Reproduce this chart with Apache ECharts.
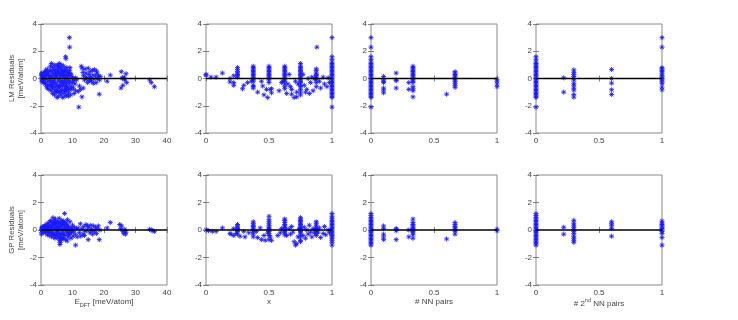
<!DOCTYPE html>
<html>
<head>
<meta charset="utf-8">
<script src="https://cdn.jsdelivr.net/npm/echarts@6/dist/echarts.min.js"></script>
<style>
  html, body { margin: 0; background: #fff; }
  #chart { width: 738px; height: 320px; }
</style>
</head>
<body>
<div id="chart"></div>
<script>
// LM residuals vs E_DFT  [x, y]
const lmVsE = [
  [0.1,0.2],[0.2,-0.1],[0.3,0.4],[0.4,0.1],[0.5,-0.2],[0.6,0.3],[0.7,0.0],[0.8,0.25],[0.9,-0.3],[1.0,0.15],
  [0.2,0.35],[0.5,0.05],[0.8,-0.1],[0.3,-0.25],[1.1,0.45],[0.4,0.3],[0.6,0.0],[0.9,0.35],[1.1,-0.2],
  [1.3,-0.4],[1.5,0.6],[1.6,0.2],[1.8,-0.6],[2.0,0.7],[2.1,-0.2],[2.3,0.4],[2.5,-0.8],[2.6,0.1],[2.8,0.55],
  [2.9,-0.5],[3.0,0.9],[1.4,0.0],[1.9,0.3],[2.2,-0.45],[2.7,-0.1],[3.1,0.2],[1.2,0.35],[1.7,0.5],[2.4,0.25],
  [2.05,-0.7],[2.95,-0.25],
  [3.2,-0.9],[3.3,1.1],[3.5,0.5],[3.6,-0.3],[3.7,-1.1],[3.8,0.8],[4.0,-0.6],[4.1,0.3],[4.2,1.0],[4.3,-1.2],
  [4.4,0.0],[4.5,-0.8],[4.6,0.6],[4.7,-0.4],[4.8,0.9],[4.9,-1.0],[5.0,0.2],[3.4,0.1],[3.9,-0.15],[4.15,0.65],
  [4.45,-0.95],[4.75,0.4],[3.55,-0.7],[3.15,0.6],[3.45,-0.45],[3.85,0.35],[4.25,-0.3],[4.55,0.15],[4.85,-0.6],
  [3.25,-0.6],
  [5.1,-1.4],[5.2,0.7],[5.3,-0.2],[5.4,1.0],[5.5,-1.3],[5.6,0.4],[5.7,-0.7],[5.8,1.1],[5.9,-0.5],[6.0,0.1],
  [6.1,-1.0],[6.2,0.8],[6.3,-1.2],[6.4,0.5],[6.5,-0.3],[6.6,1.0],[6.7,-0.9],[6.8,0.2],[6.9,-1.4],[7.0,0.6],
  [5.25,-0.9],[5.65,0.0],[6.05,-0.6],[6.45,0.3],[6.85,-0.55],[5.45,0.55],[5.15,0.35],[5.35,-0.5],[5.55,0.85],
  [5.75,-1.0],[5.95,0.3],[6.15,-0.2],[6.35,0.65],[6.55,-0.85],[6.75,0.45],[6.95,-0.15],
  [7.1,-0.4],[7.2,0.9],[7.3,-1.1],[7.4,0.3],[7.5,-0.7],[7.6,0.7],[7.7,-1.3],[7.8,0.0],[7.9,-0.9],[8.0,0.5],
  [8.1,-0.3],[8.2,0.8],[8.3,-1.2],[8.4,0.1],[8.5,-0.6],[8.6,0.4],[8.8,-1.0],[8.9,0.2],[9.0,-0.4],[9.1,0.6],
  [7.35,0.5],[7.85,-0.5],[8.35,-0.8],[8.75,0.35],[7.15,0.2],[7.45,-0.25],[7.65,-0.95],[7.95,0.25],[8.15,-0.7],
  [8.45,0.55],[8.65,-0.15],[8.95,-0.75],[9.35,0.35],
  [9.3,-0.2],[9.5,0.3],[9.6,-0.8],[9.8,0.1],[10.0,-0.3],[10.2,0.0],[10.5,-0.15],[10.8,-0.4],[11.0,0.05],
  [9.4,-1.2],[9.7,-0.6],[10.3,-0.7],[11.3,-0.1],[8.7,-1.3],[9.2,0.8],
  [9.0,3.0],[9.1,2.3],[7.8,1.6],[7.9,1.45],[12.0,-2.1],[18.5,-1.15],[13.0,-1.35],[11.0,-0.9],[11.8,-0.95],
  [12.5,-0.8],[13.4,-0.7],[12.2,-0.55],[10.5,-1.1],
  [12.8,0.9],[13.1,0.75],[13.5,0.2],[13.8,-0.1],[14.0,0.7],[14.3,0.4],[14.5,0.0],[14.8,-0.3],[15.0,0.75],
  [15.2,0.3],[15.4,-0.15],[15.6,0.5],[15.8,0.1],[16.0,-0.2],[16.3,0.6],[16.5,0.25],[16.8,-0.05],[17.0,0.65],
  [17.3,0.2],[17.5,-0.3],[17.8,0.4],[18.0,0.0],[18.3,0.2],[18.6,-0.1],[14.2,0.1],[15.5,0.05],[16.6,-0.35],
  [17.6,0.55],[13.3,0.45],[18.8,0.15],
  [21.0,-0.2],[22.0,0.25],[25.5,0.5],[25.4,-0.7],[26.0,-0.5],[26.4,0.1],[27.0,0.35],[27.2,-0.3],[26.0,0.0],
  [25.8,0.05],[26.6,-0.1],[34.5,-0.1],[35.0,-0.3],[36.0,-0.6]
];

// GP residuals vs E_DFT  [x, y]
const gpVsE = [
  [0.1,0.05],[0.2,-0.05],[0.3,0.1],[0.4,0.0],[0.5,0.15],[0.6,-0.1],[0.7,0.05],[0.8,0.2],[0.9,-0.15],[1.0,0.1],
  [0.3,-0.2],[0.6,0.25],[0.15,-0.3],[0.45,0.2],[0.85,-0.05],
  [1.2,0.3],[1.4,-0.2],[1.6,0.4],[1.8,0.0],[2.0,-0.35],[2.2,0.5],[2.4,0.15],[2.6,-0.4],[2.8,0.6],[3.0,-0.1],
  [1.5,0.1],[2.1,0.25],[2.7,0.3],[1.9,-0.15],[2.5,-0.2],[1.3,0.0],[1.7,0.2],[2.3,-0.05],[2.9,0.35],[2.2,0.05],
  [3.2,0.7],[3.4,-0.5],[3.6,0.3],[3.8,0.9],[4.0,-0.3],[4.2,0.5],[4.4,-0.6],[4.6,0.8],[4.8,0.1],[5.0,-0.45],
  [3.3,0.2],[3.7,-0.2],[4.1,0.05],[4.5,0.35],[4.9,-0.15],[3.5,0.55],[4.3,0.7],[4.7,-0.35],[3.1,0.1],
  [3.45,-0.3],[3.9,0.45],[4.15,-0.45],[4.4,0.15],[4.65,0.55],[4.95,0.3],
  [5.2,0.6],[5.4,-0.6],[5.6,0.2],[5.8,0.85],[6.0,-1.05],[6.1,-0.9],[6.2,0.4],[6.4,-0.3],[6.6,0.7],[6.8,-0.55],
  [7.0,0.1],[5.3,0.0],[5.7,-0.25],[6.3,0.0],[6.7,0.3],[5.5,0.45],[6.5,-0.7],[6.9,0.55],[5.15,-0.2],
  [5.45,0.1],[5.65,0.6],[5.85,-0.4],[6.05,0.2],[6.25,-0.55],[6.45,0.5],[6.85,-0.2],[5.95,-0.75],
  [7.2,0.65],[7.4,-0.4],[7.5,1.2],[7.6,0.3],[7.8,-0.7],[8.0,0.5],[8.2,-0.2],[8.4,0.75],[8.6,-0.5],[8.8,0.2],
  [9.0,-0.3],[7.3,0.0],[7.9,0.1],[8.5,0.35],[9.2,0.6],[8.3,-0.8],[7.1,-0.6],[7.05,0.4],[7.25,-0.3],
  [7.55,0.55],[7.75,0.05],[8.1,0.25],[8.35,-0.1],[8.7,-0.35],[9.1,0.1],[9.3,-0.15],
  [9.4,0.05],[9.6,-0.2],[9.8,0.15],[10.0,0.35],[10.3,-0.1],[10.6,0.2],[10.9,-0.3],[11.2,0.1],[11.0,-1.1],
  [11.5,-0.5],[11.8,0.15],[12.2,-0.2],[12.5,0.45],[12.6,-0.45],[9.5,-0.6],[10.2,-0.45],
  [13.0,0.1],[13.3,-0.3],[13.6,0.25],[14.0,-0.1],[14.3,0.4],[14.6,0.0],[15.0,-0.7],[15.2,0.2],[15.5,-0.2],
  [15.8,0.35],[16.1,0.05],[16.4,-0.3],[16.7,0.3],[17.0,-0.1],[17.3,0.2],[17.6,-0.25],[17.9,0.1],[18.2,0.3],
  [18.5,-0.7],[18.7,0.0],[14.8,0.3],[16.0,-0.05],[13.8,-0.4],
  [21.0,0.15],[22.0,0.55],[25.0,0.4],[25.3,0.1],[25.6,0.3],[26.0,-0.1],[26.3,-0.25],[26.6,0.05],[27.0,-0.15],
  [26.8,-0.3],[34.5,0.05],[35.0,0.0],[35.5,-0.05],[36.0,-0.1]
];

// residuals vs x: [x, [y...]]
const lmVsX = [
  [0,[0.3,0.25]],[0.04,[0.1]],[0.08,[0.1]],[0.13,[0.4]],[0.19,[0.0,-0.25]],[0.22,[0.2,-0.3,-0.5]],
  [0.25,[0.8,0.65,0.5,0.4,0.3,0.2,0.1]],
  [0.29,[-0.75]],[0.3,[-0.5]],[0.33,[-0.3]],[0.36,[-0.2]],
  [0.375,[0.9,0.8,0.7,0.6,0.5,0.4,0.3,0.2,0.1,0.0,-0.1,-0.2,-0.5,-0.6,-0.7]],
  [0.41,[-1.0]],[0.44,[-0.2]],[0.45,[-0.55]],[0.46,[-1.2]],[0.48,[-0.8]],[0.49,[-1.4]],
  [0.5,[0.9,0.8,0.7,0.6,0.5,0.4,0.3,0.2,0.1,0.0,-0.1,-0.3]],
  [0.51,[-0.8]],[0.52,[-1.05,-0.75]],[0.58,[-0.9]],[0.6,[-0.3]],[0.61,[-0.2]],
  [0.625,[0.9,0.8,0.7,0.6,0.5,0.4,0.3,0.2,0.1,0.0,-0.1,-0.2,-0.4,-0.6,-0.75]],
  [0.64,[-1.1]],[0.65,[-0.4]],[0.66,[0.3]],[0.67,[-0.6]],[0.68,[-0.8,-1.15]],[0.7,[-1.4]],[0.71,[-0.2]],
  [0.72,[-1.35,-1.0]],[0.73,[-0.4]],
  [0.75,[1.1,0.9,0.8,0.7,0.6,0.5,0.4,0.3,0.2,0.1,0.0,-0.1,-0.2,-0.3,-0.5,-0.6,-0.8,-1.0,-1.2]],
  [0.77,[0.3]],[0.78,[-0.5]],[0.79,[-1.0]],[0.8,[-0.8]],[0.81,[0.0]],[0.82,[-1.1]],[0.83,[-0.3]],
  [0.84,[0.1]],[0.85,[-0.9]],[0.86,[0.0]],
  [0.875,[0.7,0.6,0.4,0.3,0.2,0.1,0.0,-0.1,-0.3,-0.6]],
  [0.88,[2.3]],[0.9,[-0.2]],[0.91,[-0.7]],[0.93,[0.1]],[0.94,[-0.4]],[0.96,[-0.6]],[0.97,[0.05]],[0.98,[-0.3]],
  [1,[3.0,1.6,1.4,1.2,1.1,1.0,0.9,0.8,0.7,0.6,0.5,0.4,0.3,0.2,0.1,0.0,-0.1,-0.2,-0.3,-0.4,-0.5,-0.6,
      -0.7,-0.8,-0.9,-1.0,-1.1,-1.2,-1.3,-1.4,-2.1]]
];
const gpVsX = [
  [0,[0.0]],[0.02,[-0.05]],[0.05,[-0.1]],[0.08,[-0.1]],[0.13,[0.15]],[0.19,[-0.25]],[0.2,[-0.3]],
  [0.22,[-0.4,0.1]],[0.24,[-0.25]],
  [0.25,[0.4,0.3,0.2,0.1,0.0,-0.1,-0.3]],
  [0.27,[-0.45]],[0.3,[-0.1]],[0.31,[-0.5]],[0.34,[-0.2]],
  [0.375,[0.6,0.45,0.35,0.25,0.15,0.05,-0.05,-0.15,-0.3,-0.5]],
  [0.4,[-0.1]],[0.41,[-0.55]],[0.43,[0.15]],[0.44,[-0.7]],[0.46,[-0.4]],[0.47,[-0.75]],[0.49,[-0.2]],
  [0.5,[1.0,0.75,0.6,0.45,0.3,0.2,0.1,0.0,-0.1,-0.25,-0.4,-0.7]],
  [0.51,[-0.5]],[0.52,[-0.75]],[0.57,[-0.4]],[0.59,[-0.2]],[0.6,[0.1]],
  [0.625,[0.8,0.7,0.55,0.4,0.3,0.2,0.1,0.0,-0.1,-0.2,-0.35]],
  [0.64,[-0.4]],[0.66,[0.1]],[0.67,[-0.3]],[0.68,[0.25]],[0.69,[-0.15]],[0.7,[-0.85]],[0.71,[-1.1]],
  [0.72,[-1.0]],[0.73,[-0.5]],[0.74,[0.1]],
  [0.75,[0.9,0.8,0.7,0.6,0.5,0.4,0.3,0.2,0.1,0.0,-0.1,-0.2,-0.35,-0.5,-0.75,-0.85]],
  [0.77,[-0.4]],[0.78,[0.2]],[0.79,[-0.6]],[0.8,[0.0]],[0.81,[-0.3]],[0.82,[0.35]],[0.83,[-0.15]],
  [0.84,[-0.5]],[0.85,[0.1]],[0.86,[-0.2]],
  [0.875,[0.6,0.5,0.35,0.2,0.1,0.0,-0.1,-0.25,-0.4]],
  [0.89,[-0.15]],[0.9,[0.15]],[0.91,[-0.55]],[0.93,[-0.25]],[0.94,[0.25]],[0.95,[-0.35]],[0.97,[0.0]],[0.98,[-0.2]],
  [1,[1.2,1.0,0.85,0.7,0.6,0.5,0.4,0.3,0.2,0.1,0.0,-0.1,-0.2,-0.3,-0.4,-0.5,-0.6,-0.75,-0.9,-1.1]]
];

// residuals vs # NN pairs
const lmVsNN = [
  [0,[3.0,2.3,1.6,1.4,1.2,1.1,1.0,0.9,0.8,0.7,0.6,0.5,0.4,0.3,0.2,0.1,0.0,-0.1,-0.2,-0.3,-0.4,-0.5,
      -0.6,-0.7,-0.8,-0.9,-1.0,-1.1,-1.2,-1.3,-1.4,-2.1]],
  [0.1,[0.15,-0.1,-0.2,-0.3,-0.7,-0.85,-1.05]],
  [0.2,[0.4,-0.1,-0.15,-0.7]],
  [0.3,[-0.3,-0.8]],
  [0.333,[0.9,0.8,0.7,0.6,0.5,0.4,0.3,0.2,0.1,0.0,-0.1,-0.2,-0.3,-0.6,-0.75,-0.9,-1.35]],
  [0.6,[-1.15]],
  [0.667,[0.5,0.4,0.3,0.2,0.1,0.0,-0.1,-0.2,-0.35,-0.5,-0.65]],
  [1,[-0.05,-0.2,-0.4,-0.6]]
];
const gpVsNN = [
  [0,[1.2,1.05,0.9,0.8,0.7,0.6,0.5,0.4,0.3,0.2,0.1,0.0,-0.1,-0.2,-0.3,-0.4,-0.5,-0.6,-0.7,-0.8,-0.9,-1.0,-1.1]],
  [0.1,[0.3,0.1,-0.3,-0.5,-0.7]],
  [0.2,[0.1,0.05,-0.05,-0.7]],
  [0.3,[0.0,-0.5]],
  [0.333,[0.8,0.55,0.4,0.3,0.2,0.1,0.0,-0.1,-0.2,-0.35,-0.6]],
  [0.6,[-0.65]],
  [0.667,[0.55,0.4,0.25,0.15,0.05,-0.1,-0.3]],
  [1,[0.05,-0.05]]
];

// residuals vs # 2nd NN pairs
const lmVsNN2 = [
  [0,[1.6,1.4,1.2,1.1,1.0,0.9,0.8,0.7,0.6,0.5,0.4,0.3,0.2,0.1,0.0,-0.1,-0.2,-0.3,-0.4,-0.5,-0.6,-0.7,
      -0.8,-0.9,-1.0,-1.1,-1.2,-1.3,-1.4,-2.1]],
  [0.22,[0.05,-1.0]],
  [0.3,[0.63,0.45,0.3,0.15,0.0,-0.1,-0.35,-0.5,-0.7,-0.85,-1.17,-1.37]],
  [0.6,[0.66,0.0,-0.34,-0.83,-1.17]],
  [1,[3.0,2.3,0.8,0.7,0.6,0.5,0.35,0.2,0.1,0.0,-0.1,-0.25,-0.35,-0.63,-0.83]]
];
const gpVsNN2 = [
  [0,[1.2,1.05,0.9,0.8,0.7,0.6,0.5,0.4,0.3,0.2,0.1,0.0,-0.1,-0.2,-0.3,-0.4,-0.5,-0.6,-0.7,-0.8,-0.9,-1.0,-1.1]],
  [0.22,[0.2,-0.3]],
  [0.3,[0.7,0.5,0.35,0.2,0.05,-0.1,-0.25,-0.45,-0.6,-0.75,-0.9]],
  [0.6,[0.6,0.45,0.3,0.1,-0.45]],
  [1,[0.65,0.5,0.4,0.3,0.2,0.1,0.0,-0.1,-0.25,-0.55,-1.1]]
];

const yTicks = { min: -4, max: 4, interval: 2 };

function flatten(cols) {
  const out = [];
  for (const [x, ys] of cols) for (const y of ys) out.push([x, y]);
  return out;
}

const rich = {
  n: { fontSize: 8, color: '#444', lineHeight: 11, verticalAlign: 'top' },
  sub: { fontSize: 5.5, color: '#444', lineHeight: 11, verticalAlign: 'bottom' },
  m: { fontSize: 8, color: '#444', lineHeight: 10, verticalAlign: 'bottom' },
  sup: { fontSize: 5.5, color: '#444', lineHeight: 10, verticalAlign: 'top' }
};

const panels = [
  { row: 0, col: 0, data: lmVsE,          xMax: 40, xInt: 10 },
  { row: 0, col: 1, data: flatten(lmVsX),   xMax: 1, xInt: 0.5 },
  { row: 0, col: 2, data: flatten(lmVsNN),  xMax: 1, xInt: 0.5 },
  { row: 0, col: 3, data: flatten(lmVsNN2), xMax: 1, xInt: 0.5 },
  { row: 1, col: 0, data: gpVsE,          xMax: 40, xInt: 10, xName: '{n|E}{sub|DFT}{n| [meV/atom]}' },
  { row: 1, col: 1, data: flatten(gpVsX),   xMax: 1, xInt: 0.5, xName: '{n|x}' },
  { row: 1, col: 2, data: flatten(gpVsNN),  xMax: 1, xInt: 0.5, xName: '{n|# NN pairs}' },
  { row: 1, col: 3, data: flatten(gpVsNN2), xMax: 1, xInt: 0.5, xName: '{m|# 2}{sup|nd}{m| NN pairs}' }
];
const yNames = ['LM Residuals\n[meV/atom]', 'GP Residuals\n[meV/atom]'];

const lefts = [41, 206, 371, 536];
const tops = [24, 175];
const heights = [109, 110];

const grid = [], xAxis = [], yAxis = [], series = [];
const tick = { inside: true, length: 3, lineStyle: { color: '#666', width: 0.8 } };
const label = { color: '#444', fontSize: 8, fontFamily: 'Liberation Sans' };

panels.forEach((p, i) => {
  grid.push({
    left: lefts[p.col], top: tops[p.row], width: 126, height: heights[p.row],
    show: true, borderColor: '#8a8a8a', borderWidth: 1, backgroundColor: '#fff'
  });
  xAxis.push({
    gridIndex: i, type: 'value', min: 0, max: p.xMax, interval: p.xInt,
    axisLine: { show: false }, splitLine: { show: false }, axisTick: tick,
    axisLabel: Object.assign({ margin: 4 }, label),
    name: p.xName || '', nameLocation: 'middle', nameGap: 12,
    nameTextStyle: { fontFamily: 'Liberation Sans', rich }
  });
  xAxis.push({
    gridIndex: i, type: 'value', position: 'top', min: 0, max: p.xMax, interval: p.xInt,
    axisLine: { show: false }, splitLine: { show: false }, axisTick: tick, axisLabel: { show: false }
  });
  yAxis.push({
    gridIndex: i, type: 'value', min: yTicks.min, max: yTicks.max, interval: yTicks.interval,
    axisLine: { show: false }, splitLine: { show: false }, axisTick: tick,
    axisLabel: Object.assign({ margin: 4 }, label),
    name: p.col === 0 ? yNames[p.row] : '', nameLocation: 'middle', nameGap: 13,
    nameTextStyle: { color: '#444', fontSize: 7.8, fontFamily: 'Liberation Sans', lineHeight: 9.5 }
  });
  yAxis.push({
    gridIndex: i, type: 'value', position: 'right', min: yTicks.min, max: yTicks.max, interval: yTicks.interval,
    axisLine: { show: false }, splitLine: { show: false }, axisTick: tick, axisLabel: { show: false }
  });
  series.push({
    type: 'scatter', xAxisIndex: i * 2, yAxisIndex: i * 2, data: p.data,
    symbol: 'path://M5 0V10M0 5H10M1.5 1.5L8.5 8.5M1.5 8.5L8.5 1.5',
    symbolSize: 5, silent: true,
    itemStyle: { color: 'rgba(0,0,255,0)', borderColor: '#1a1aff', borderWidth: 1, opacity: 0.85 }
  });
  series.push({
    type: 'line', xAxisIndex: i * 2, yAxisIndex: i * 2, data: [[0, 0], [p.xMax, 0]],
    symbol: 'none', silent: true, lineStyle: { color: '#000', width: 1.5 }
  });
});

const chart = echarts.init(document.getElementById('chart'), null, { renderer: 'canvas' });
chart.setOption({ animation: false, grid, xAxis, yAxis, series });
</script>
</body>
</html>
